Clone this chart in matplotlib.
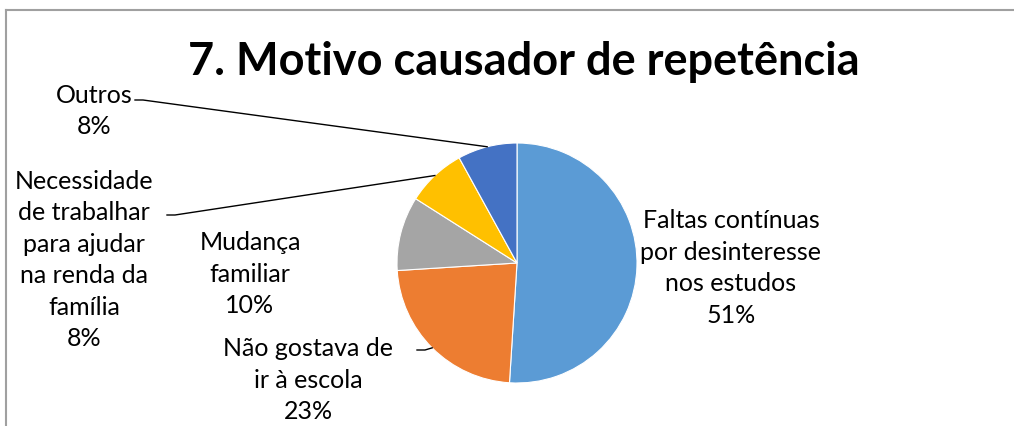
import numpy as np
import matplotlib
matplotlib.use("Agg")
from matplotlib import pyplot as plt
from matplotlib.lines import Line2D

# data
labels = ["Faltas contínuas\npor desinteresse\nnos estudos",
          "Não gostava de\nir à escola",
          "Mudança\nfamiliar",
          "Necessidade\nde trabalhar\npara ajudar\nna renda da\nfamília",
          "Outros"]
values = [51, 23, 10, 8, 8]
colors = ["#5B9BD5", "#ED7D31", "#A5A5A5", "#FFC000", "#4472C4"]
title = "7. Motivo causador de repetência"

W, H = 1014, 426
plt.rcParams["font.family"] = ["Lato", "DejaVu Sans"]

fig = plt.figure(figsize=(W / 100, H / 100), dpi=100)
ax = fig.add_axes([0, 0, 1, 1])
ax.set_xlim(0, W)
ax.set_ylim(0, H)
ax.set_aspect("equal")
ax.axis("off")

def py(y):
    # pixel-from-top to data y
    return H - y

cx, cy, r = 517, py(263), 120
wedges, _ = ax.pie(values, colors=colors, startangle=90, counterclock=False,
                   center=(cx, cy), radius=r,
                   wedgeprops=dict(linewidth=0.8, edgecolor="white"))
ax.set_xlim(0, W)
ax.set_ylim(0, H)

# label block centers (pixel coords) and leader line starts
label_pos = [(731, 268), (308, 380), (250, 274), (84, 260), (94, 111)]
leader = {1: (417, 350), 3: (167, 215), 4: (135, 100)}

total = sum(values)
for i, (w, lab) in enumerate(zip(wedges, labels)):
    pct = "%d%%" % round(100 * values[i] / total)
    x, y = label_pos[i]
    ax.text(x, py(y), lab + "\n" + pct, ha="center", va="center",
            fontsize=18, color="#000000", linespacing=1.45)
    if i in leader:
        mid = np.deg2rad((w.theta1 + w.theta2) / 2)
        ex, ey = cx + r * np.cos(mid), cy + r * np.sin(mid)
        sx, sy = leader[i]
        ax.plot([sx, sx + 8, ex], [py(sy), py(sy), ey], color="black", lw=1)

ax.text(W / 2 + 17, py(62), title, ha="center", va="center",
        fontsize=32.5, fontweight="bold", color="black")

# chart frame
fig.add_artist(Line2D([6 / W, 1], [1 - 10 / H, 1 - 10 / H], color="#A0A0A0", lw=1.5))
fig.add_artist(Line2D([6 / W, 6 / W], [0, 1 - 10 / H], color="#A0A0A0", lw=1.5))

fig.savefig("out.png", dpi=100)
